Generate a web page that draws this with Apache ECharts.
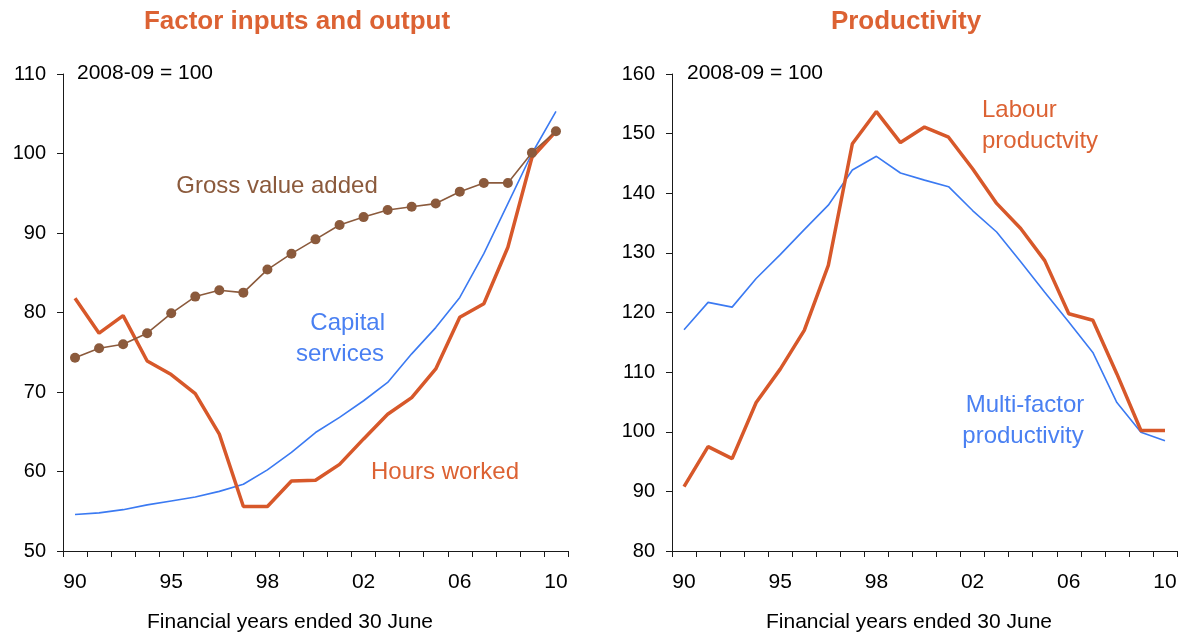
<!DOCTYPE html>
<html>
<head>
<meta charset="utf-8">
<script src="https://cdn.jsdelivr.net/npm/echarts@6/dist/echarts.min.js"></script>
<style>
  html, body { margin: 0; padding: 0; background: #fff; }
  #main { width: 1185px; height: 637px; }
</style>
</head>
<body>
<div id="main"></div>
<script>
// financial years ended 30 June, 1990 to 2010
const years = ['1990','1991','1992','1993','1994','1995','1996','1997','1998','1999','2000',
               '2001','2002','2003','2004','2005','2006','2007','2008','2009','2010'];
// labels as printed on the axis (one every four years)
const tickLabels = ['90','','','','95','','','','98','','','','02','','','','06','','','','10'];

// left panel: factor inputs and output (2008-09 = 100)
const hoursWorked = [81.8, 77.4, 79.6, 73.9, 72.2, 69.8, 64.7, 55.6, 55.6, 58.8, 58.9,
                     60.9, 64.1, 67.2, 69.3, 72.9, 79.4, 81.1, 88.2, 99.5, 102.8];
const capitalServices = [54.6, 54.8, 55.2, 55.8, 56.3, 56.8, 57.5, 58.4, 60.2, 62.4, 64.9,
                         66.8, 68.9, 71.2, 74.8, 78.1, 81.9, 87.4, 93.7, 100.0, 105.3];
const grossValueAdded = [74.3, 75.5, 76.0, 77.4, 79.9, 82.0, 82.8, 82.5, 85.4, 87.4, 89.2,
                         91.0, 92.0, 92.9, 93.3, 93.7, 95.2, 96.3, 96.3, 100.1, 102.8];

// right panel: productivity (2008-09 = 100)
const labourProd = [90.8, 97.5, 95.5, 104.9, 110.5, 117.0, 127.9, 148.3, 153.7, 148.5, 151.1,
                    149.4, 144.1, 138.3, 134.1, 128.7, 119.8, 118.7, 109.7, 100.2, 100.2];
const mfProd = [117.1, 121.7, 120.9, 125.7, 129.7, 133.9, 138.0, 143.9, 146.2, 143.4, 142.2,
                141.1, 137.1, 133.5, 128.5, 123.4, 118.4, 113.3, 104.9, 99.9, 98.5];

const FONT = '"Liberation Sans", Arial, sans-serif';
const ORANGE = '#d7582a';
const ORANGE_TXT = '#dc6233';
const BLUE = '#3b7af2';
const BLUE_TXT = '#4a80f2';
const BROWN = '#8b5a3c';
const AXIS = '#1a1a1a';

const myChart = echarts.init(document.getElementById('main'), null, { renderer: 'canvas' });

function xAxisFor(gridIndex) {
  return {
    type: 'category',
    gridIndex: gridIndex,
    data: years,
    boundaryGap: true,
    axisLine: { show: true, lineStyle: { color: AXIS, width: 1 } },
    axisTick: { show: true, interval: 0, inside: false, length: 6, lineStyle: { color: AXIS, width: 1 } },
    axisLabel: {
      interval: 0,
      margin: 21,
      fontSize: 21,
      fontFamily: FONT,
      color: '#000',
      formatter: function (v, i) { return tickLabels[i]; }
    },
    splitLine: { show: false }
  };
}

function yAxisFor(gridIndex, min, max) {
  return {
    type: 'value',
    gridIndex: gridIndex,
    min: min,
    max: max,
    interval: 10,
    axisLine: { show: true, lineStyle: { color: AXIS, width: 1 } },
    axisTick: { show: true, inside: false, length: 6, lineStyle: { color: AXIS, width: 1 } },
    axisLabel: { margin: 17, fontSize: 20, fontFamily: FONT, color: '#000' },
    splitLine: { show: false }
  };
}

function text(x, y, str, opts) {
  return {
    type: 'text',
    x: x,
    y: y,
    style: Object.assign({
      text: str,
      fontFamily: FONT,
      fontSize: 24,
      fill: '#000',
      textAlign: 'left',
      textVerticalAlign: 'middle'
    }, opts || {})
  };
}

const option = {
  animation: false,
  backgroundColor: '#fff',
  grid: [
    { left: 63, right: 617, top: 74, bottom: 86, containLabel: false, outerBoundsMode: 'none' },
    { left: 672, right: 8, top: 74, bottom: 86, containLabel: false, outerBoundsMode: 'none' }
  ],
  xAxis: [xAxisFor(0), xAxisFor(1)],
  yAxis: [yAxisFor(0, 50, 110), yAxisFor(1, 80, 160)],
  series: [
    {
      name: 'Capital services',
      type: 'line',
      xAxisIndex: 0, yAxisIndex: 0,
      data: capitalServices,
      symbol: 'none',
      lineStyle: { color: BLUE, width: 1.6 }
    },
    {
      name: 'Hours worked',
      type: 'line',
      xAxisIndex: 0, yAxisIndex: 0,
      data: hoursWorked,
      symbol: 'none',
      lineStyle: { color: ORANGE, width: 3.5 }
    },
    {
      name: 'Gross value added',
      type: 'line',
      xAxisIndex: 0, yAxisIndex: 0,
      data: grossValueAdded,
      symbol: 'circle',
      symbolSize: 10,
      itemStyle: { color: BROWN },
      lineStyle: { color: BROWN, width: 1.6 }
    },
    {
      name: 'Multi-factor productivity',
      type: 'line',
      xAxisIndex: 1, yAxisIndex: 1,
      data: mfProd,
      symbol: 'none',
      lineStyle: { color: BLUE, width: 1.6 }
    },
    {
      name: 'Labour productivity',
      type: 'line',
      xAxisIndex: 1, yAxisIndex: 1,
      data: labourProd,
      symbol: 'none',
      lineStyle: { color: ORANGE, width: 3.5 }
    }
  ],
  graphic: [
    // panel titles
    text(297, 22, 'Factor inputs and output', { fontSize: 26, fontWeight: 'bold', fill: ORANGE_TXT, textAlign: 'center' }),
    text(906, 22, 'Productivity', { fontSize: 26, fontWeight: 'bold', fill: ORANGE_TXT, textAlign: 'center' }),
    // base period notes
    text(77, 73, '2008-09 = 100', { fontSize: 21 }),
    text(687, 73, '2008-09 = 100', { fontSize: 21 }),
    // series labels, left
    text(277, 186, 'Gross value added', { fill: BROWN, textAlign: 'center' }),
    text(385, 323, 'Capital', { fill: BLUE_TXT, textAlign: 'right' }),
    text(384, 354, 'services', { fill: BLUE_TXT, textAlign: 'right' }),
    text(445, 472, 'Hours worked', { fill: ORANGE_TXT, textAlign: 'center' }),
    // series labels, right
    text(982, 110, 'Labour', { fill: ORANGE_TXT }),
    text(982, 141, 'productvity', { fill: ORANGE_TXT }),
    text(1025, 405, 'Multi-factor', { fill: BLUE_TXT, textAlign: 'center' }),
    text(1023, 436, 'productivity', { fill: BLUE_TXT, textAlign: 'center' }),
    // axis titles
    text(290, 622, 'Financial years ended 30 June', { fontSize: 21, textAlign: 'center' }),
    text(909, 622, 'Financial years ended 30 June', { fontSize: 21, textAlign: 'center' })
  ]
};

option && myChart.setOption(option);
</script>
</body>
</html>
